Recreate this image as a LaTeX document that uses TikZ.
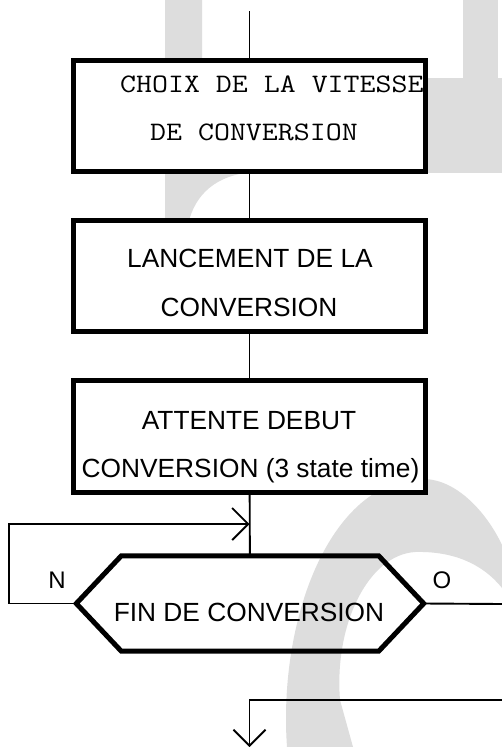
\documentclass[tikz,border=0pt]{standalone}
\usepackage{fontspec}
\setsansfont{Liberation Sans}
\usetikzlibrary{arrows.meta}
\definecolor{wmgrey}{HTML}{DDDDDD}
\begin{document}
\begin{tikzpicture}[x=1pt,y=-1pt,
  stepbox/.style={draw, line width=5pt, fill=white, minimum width=352pt,
    minimum height=111pt, inner sep=0pt},
  link/.style={draw, line width=1.9pt},
  arr/.style={-{Straight Barb[length=16pt,width=32pt,line width=1.9pt]}},
  hexline/.style={draw, line width=5pt, line join=miter},
  sanslab/.style={font=\sffamily\fontsize{26.3}{26.3}\selectfont, anchor=base, inner sep=0pt},
  smalllab/.style={font=\sffamily\fontsize{24}{24}\selectfont, anchor=base, inner sep=0pt},
  monolab/.style={font=\ttfamily\fontsize{31}{31}\selectfont, anchor=base west, inner sep=0pt}]

% page
\fill[white] (0,0) rectangle (502,747);
\useasboundingbox (0,0) rectangle (502,747);

% faint background marks
\fill[wmgrey] (165,0) -- (202,0) -- (202,150) -- (262,150) -- (245,173)
  .. controls (212,178) and (192,198) .. (187,230) -- (165,230) -- cycle;
\fill[wmgrey] (463,0) rectangle (498,78);
\fill[wmgrey] (400,78) rectangle (502,173);
\fill[wmgrey] (287,747) .. controls (278,620) and (330,479) .. (423,479)
  .. controls (458,479) and (488,515) .. (502,545) -- (502,588)
  .. controls (482,563) and (452,551) .. (415,552)
  .. controls (368,555) and (334,625) .. (340,700) -- (353,747) -- cycle;

% process boxes
\node[stepbox] (choix) at (249.5,116) {};
\node[stepbox] (lance) at (249.5,276) {};
\node[stepbox, minimum height=112pt] (attente) at (249.5,436.5) {};

% decision hexagon
\node[minimum width=347pt, minimum height=95pt, inner sep=0pt] (fin) at (250,603.5) {};
\draw[hexline] (fin.west) -- ([xshift=45pt]fin.north west) -- ([xshift=-45pt]fin.north east)
  -- (fin.east) -- ([xshift=-45pt]fin.south east) -- ([xshift=45pt]fin.south west) -- cycle;

% texts
\node[monolab] (t1a) at (120,92) {\scalebox{1}[0.86]{CHOIX DE LA VITESSE}};
\node[monolab] (t1b) at (150,140) {\scalebox{1}[0.86]{DE CONVERSION}};
\node[sanslab] (t2a) at (250,267) {LANCEMENT DE LA};
\node[sanslab] (t2b) at (249,316) {CONVERSION};
\node[sanslab] (t3a) at (249,429) {ATTENTE DEBUT};
\node[sanslab] (t3b) at (250.5,477) {CONVERSION (3 state time)};
\node[sanslab] (t4) at (249,621) {FIN DE CONVERSION};
\node[smalllab] (labn) at (57,588) {N};
\node[smalllab] (labo) at (442,588) {O};

% connector end points
\coordinate (entry) at (249.5,11);
\coordinate (ncorner) at (9,524);
\coordinate (njoin) at (249.5,524);
\coordinate (oend) at (502,604);
\coordinate (oret) at (502,700);
\coordinate (exit) at (249.5,747);

% connectors
\draw[link] (entry) -- (choix);
\draw[link] (choix) -- (lance);
\draw[link] (lance) -- (attente);
\draw[link] (attente) -- (fin);
\draw[link, arr] (fin.west) -| (ncorner) -- (njoin);
\draw[link] (fin.east) -- (oend);
\draw[link, arr] (oret) -| (exit);
\end{tikzpicture}
\end{document}
